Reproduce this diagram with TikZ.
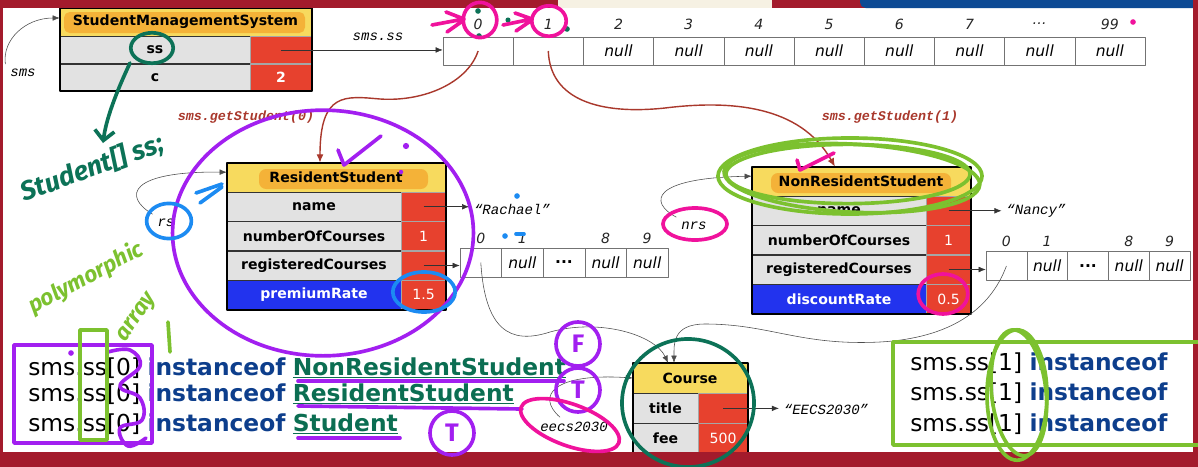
\documentclass[tikz,border=0pt]{standalone}
\usepackage{fontspec}
\setmainfont{DejaVu Sans}
\newfontfamily\codefont{Liberation Mono}
\newfontfamily\penfont{Fira Sans}
\usetikzlibrary{arrows.meta}

% slide and object colours
\definecolor{slidered}{HTML}{A31B2C}
\definecolor{slideblue}{HTML}{0D4A94}
\definecolor{slidecream}{HTML}{F6F1E3}
\definecolor{hdryellow}{HTML}{F7DA5E}
\definecolor{hilite}{HTML}{F3A52C}
\definecolor{cellgrey}{HTML}{E2E2E2}
\definecolor{cellred}{HTML}{E7412E}
\definecolor{cellblue}{HTML}{2233EE}
\definecolor{linkred}{HTML}{A9382C}
\definecolor{kwblue}{HTML}{0D3E8C}
\definecolor{clsgreen}{HTML}{0B6E52}
% pen colours
\definecolor{penpurple}{HTML}{A21FF0}
\definecolor{penpink}{HTML}{F0129C}
\definecolor{penlime}{HTML}{7CC12F}
\definecolor{pengreen}{HTML}{0C7257}
\definecolor{penblue}{HTML}{1C8BF2}

\tikzset{
  classhdr/.style={draw=black, fill=hdryellow, minimum height=0.72cm, inner sep=0pt},
  hdrtext/.style={font=\fontsize{10}{12}\selectfont\bfseries},
  fieldname/.style={draw=black!80, fill=cellgrey, minimum height=0.72cm, inner sep=0pt,
    font=\fontsize{10}{12}\selectfont\bfseries},
  fieldval/.style={draw=black!35, fill=cellred, minimum height=0.72cm, inner sep=0pt,
    text=white, font=\fontsize{10}{12}\selectfont},
  namecell/.style={fieldname, minimum width=4.35cm, anchor=north west},
  valcell/.style={fieldval, minimum width=1.1cm, anchor=north west},
  extracell/.style={namecell, fill=cellblue, text=white},
  objframe/.style={draw=black, line width=1.4pt},
  arrcell/.style={draw=black!55, fill=white, inner sep=0pt, font=\fontsize{11}{13}\selectfont\itshape},
  idx/.style={font=\fontsize{10}{12}\selectfont\itshape, text=black!85},
  codelbl/.style={font=\codefont\fontsize{10}{12}\selectfont\itshape},
  calllbl/.style={font=\codefont\fontsize{9.5}{11}\selectfont\bfseries\itshape, text=linkred},
  ptr/.style={-{Latex[length=5pt,width=4pt]}, black!80, thin},
  ref/.style={-{Latex[length=5pt,width=4pt]}, black!70, thin},
  link/.style={-{Latex[length=6pt,width=5pt]}, linkred, line width=1pt},
  checkline/.style={anchor=base west, inner sep=0pt, font=\fontsize{16.6}{19}\selectfont},
  penline/.style={line width=2.6pt, line cap=round, line join=round},
  pentext/.style={inner sep=1pt, font=\penfont\bfseries\itshape\fontsize{16}{19}\selectfont},
  answer/.style={penline, draw=penpurple, circle, minimum size=1.1cm, inner sep=0pt,
    text=penpurple, font=\penfont\bfseries\fontsize{18}{20}\selectfont},
}

\begin{document}
\begin{tikzpicture}[x=0.025cm, y=-0.025cm, line join=round]
  \useasboundingbox (0,0) rectangle (1198,467);
  \clip (0,0) rectangle (1198,467);
  \fill[white] (0,0) rectangle (1198,467);

  % StudentManagementSystem object
  \node[classhdr, minimum width=6.275cm, minimum height=0.7cm] (smsHead) at (185.5,22) {};
  \fill[hilite, opacity=0.75, rounded corners=4pt] (64,12) rectangle (305,33);
  \node[hdrtext] (smsTitle) at (smsHead) {StudentManagementSystem};
  \node[fieldname, minimum width=4.75cm, minimum height=0.67cm, anchor=north west] (smsSs) at (smsHead.south west) {ss};
  \node[fieldval, minimum width=1.525cm, minimum height=0.67cm, anchor=north west] (smsSsV) at (smsSs.north east) {};
  \node[fieldname, minimum width=4.75cm, minimum height=0.67cm, anchor=north west] (smsC) at (smsSs.south west) {c};
  \node[fieldval, minimum width=1.525cm, minimum height=0.67cm, anchor=north west,
    font=\fontsize{10}{12}\selectfont\bfseries] (smsCV) at (smsC.north east) {2};
  \draw[objframe] (smsHead.north west) rectangle (smsCV.south east);

  \node[codelbl] (smsLbl) at (23,73) {sms};
  \draw[ref] (smsLbl.north west) .. controls (2,40) and (25,18) .. ([yshift=0.1cm]smsHead.west);

  % the ss array
  \foreach \i/\n/\v in {0/0/{},1/1/{},2/2/null,3/3/null,4/4/null,5/5/null,6/6/null,7/7/null,8/{\ldots}/null,9/99/null} {
    \node[arrcell, minimum width=1.755cm, minimum height=0.7cm] (ss\i) at ({478.1+70.2*\i},51) {\v};
    \node[idx] (ssIdx\i) at ({478.1+70.2*\i},24) {\n};
  }
  \node[codelbl] (ssLbl) at (378,37) {sms.ss};
  \draw[ptr] (smsSsV.center) -- (smsSsV.center -| ss0.west);

  % ResidentStudent object
  \node[classhdr, minimum width=5.45cm] (rsHead) at (336,177.4) {};
  \fill[hilite, opacity=0.75, rounded corners=5pt] (259,169) rectangle (428,189);
  \node[hdrtext] (rsTitle) at (rsHead) {ResidentStudent};
  \node[namecell] (rsName) at (rsHead.south west) {name};
  \node[valcell] (rsNameV) at (rsName.north east) {};
  \node[namecell] (rsNum) at (rsName.south west) {numberOfCourses};
  \node[valcell] (rsNumV) at (rsNum.north east) {1};
  \node[namecell] (rsReg) at (rsNum.south west) {registeredCourses};
  \node[valcell] (rsRegV) at (rsReg.north east) {};
  \node[extracell] (rsRate) at (rsReg.south west) {premiumRate};
  \node[valcell] (rsRateV) at (rsRate.north east) {1.5};
  \draw[objframe] (rsHead.north west) rectangle (rsRateV.south east);

  \node[codelbl] (rsLbl) at (166,223) {rs};
  \draw[ref] (rsLbl.north west) .. controls (122,196) and (130,171) .. ([yshift=0.13cm]rsHead.west);

  \node[codelbl] (rachael) at (512,209) {“Rachael”};
  \draw[ptr] (rsNameV.center) -- (rsNameV.center -| rachael.west);

  \foreach \i/\v in {0/{},1/null,2/{\upshape\bfseries ...},3/null,4/null}
    \node[arrcell, minimum width=1.04cm, minimum height=0.725cm] (rsArr\i) at ({480.8+41.6*\i},262.5) {\v};
  \foreach \i/\n in {0/0,1/1,3/8,4/9}
    \node[idx] (rsIdx\i) at ({480.8+41.6*\i},238) {\n};
  \draw[ptr] (rsRegV.center) -- (rsRegV.center -| rsArr0.west);

  % NonResidentStudent object
  \node[classhdr, minimum width=5.45cm] (nrsHead) at (861,181.4) {};
  \fill[hilite, opacity=0.75, rounded corners=5pt] (771,173) rectangle (951,193);
  \node[hdrtext] (nrsTitle) at (nrsHead) {NonResidentStudent};
  \node[namecell] (nrsName) at (nrsHead.south west) {name};
  \node[valcell] (nrsNameV) at (nrsName.north east) {};
  \node[namecell] (nrsNum) at (nrsName.south west) {numberOfCourses};
  \node[valcell] (nrsNumV) at (nrsNum.north east) {1};
  \node[namecell] (nrsReg) at (nrsNum.south west) {registeredCourses};
  \node[valcell] (nrsRegV) at (nrsReg.north east) {};
  \node[extracell] (nrsRate) at (nrsReg.south west) {discountRate};
  \node[valcell] (nrsRateV) at (nrsRate.north east) {0.5};
  \draw[objframe] (nrsHead.north west) rectangle (nrsRateV.south east);

  \node[codelbl] (nrsLbl) at (694,226) {nrs};
  \draw[ref] (nrsLbl.north west) .. controls (648,202) and (652,178) .. ([yshift=0.13cm]nrsHead.west);

  \node[codelbl] (nancy) at (1036,211) {“Nancy”};
  \draw[ptr] (nrsNameV.center) -- (nrsNameV.center -| nancy.west);

  \foreach \i/\v in {0/{},1/null,2/{\upshape\bfseries ...},3/null,4/null}
    \node[arrcell, minimum width=1.02cm, minimum height=0.72cm] (nrsArr\i) at ({1006.4+40.8*\i},266) {\v};
  \foreach \i/\n in {0/0,1/1,3/8,4/9}
    \node[idx] (nrsIdx\i) at ({1006.4+40.8*\i},241) {\n};
  \draw[ptr] (nrsRegV.center) -- (nrsRegV.center -| nrsArr0.west);

  % getStudent links
  \draw[link] (ss0.center) .. controls (468,82) and (425,102) .. (380,99)
    .. controls (345,96) and (320,92) .. ([xshift=-0.4cm]rsHead.north);
  \node[calllbl] (getLbl0) at (246,117) {sms.getStudent(0)};
  \draw[link] (ss1.center) .. controls (550,100) and (600,115) .. (665,108)
    .. controls (730,100) and (800,105) .. ([xshift=-0.65cm]nrsHead.north);
  \node[calllbl] (getLbl1) at (890,117) {sms.getStudent(1)};

  % Course object
  \node[classhdr, minimum width=2.85cm, minimum height=0.75cm] (courseHead) at (690,378) {};
  \node[hdrtext] (courseTitle) at (courseHead) {Course};
  \node[fieldname, minimum width=1.625cm, minimum height=0.74cm, anchor=north west] (courseT) at (courseHead.south west) {title};
  \node[fieldval, minimum width=1.225cm, minimum height=0.74cm, anchor=north west] (courseTV) at (courseT.north east) {};
  \node[fieldname, minimum width=1.625cm, minimum height=0.74cm, anchor=north west] (courseF) at (courseT.south west) {fee};
  \node[fieldval, minimum width=1.225cm, minimum height=0.74cm, anchor=north west] (courseFV) at (courseF.north east) {500};
  \draw[objframe] (courseHead.north west) rectangle (courseFV.south east);

  \node[codelbl] (eecsStr) at (826,409) {“EECS2030”};
  \draw[ptr] (courseTV.center) -- (courseTV.center -| eecsStr.west);
  \node[codelbl] (eecsLbl) at (574,427) {eecs2030};
  \draw[ref] ([xshift=-0.35cm]eecsLbl.north) .. controls (535,395) and (555,373) .. (courseHead.west);

  \draw[ref] (rsArr0.center) .. controls (485,330) and (510,345) .. (550,332)
    .. controls (600,318) and (655,335) .. ([xshift=-0.55cm]courseHead.north);
  \draw[ref] (nrsArr0.center) .. controls (990,310) and (950,338) .. (880,342)
    .. controls (800,346) and (770,324) .. (705,324)
    .. controls (672,324) and (674,345) .. ([xshift=-0.4cm]courseHead.north);

  % instanceof checks
  \node[checkline] (chk0a) at (28,375) {sms.ss[0] \textcolor{kwblue}{\bfseries instanceof} \textcolor{clsgreen}{\bfseries\underline{NonResidentStudent}}};
  \node[checkline] (chk0b) at (28,401) {sms.ss[0] \textcolor{kwblue}{\bfseries instanceof} \textcolor{clsgreen}{\bfseries\underline{ResidentStudent}}};
  \node[checkline] (chk0c) at (28,431) {sms.ss[0] \textcolor{kwblue}{\bfseries instanceof} \textcolor{clsgreen}{\bfseries\underline{Student}}};
  \node[checkline] (chk1a) at (910,370) {sms.ss[1] \textcolor{kwblue}{\bfseries instanceof}};
  \node[checkline] (chk1b) at (910,400) {sms.ss[1] \textcolor{kwblue}{\bfseries instanceof}};
  \node[checkline] (chk1c) at (910,431) {sms.ss[1] \textcolor{kwblue}{\bfseries instanceof}};

  % slide frame
  \fill[slidered] (0,0) rectangle (1198,8);
  \fill[slidecream] (558,0) rectangle (772,8);
  \fill[slideblue, rounded corners=4pt] (860,-6) rectangle (1210,8);
  \fill[slidered] (0,0) rectangle (3,467);
  \fill[slidered] (1193,0) rectangle (1198,467);
  \fill[slidered] (0,452) rectangle (1198,467);

  % pen marks
  \draw[penline, penpurple] (323,233) ellipse [x radius=3.76cm, y radius=3.07cm];
  \draw[penline, penpurple] (338,150) -- (344,165) -- (381,136);
  \fill[penpurple] (406,146) circle (2.2pt) (401,172) circle (1.6pt) (71,353) circle (2pt);
  \draw[penline, penpurple] (14,345) rectangle (152,443);
  \draw[penline, penpurple] plot[smooth, tension=0.7] coordinates {(108,352) (130,350) (140,366) (120,386) (140,398) (142,420) (120,428) (128,446) (146,438)};
  \draw[penline, penpurple] (298,381) -- (564,381);
  \draw[penline, penpurple] (298,406) -- (522,409);
  \draw[penline, penpurple] (298,438) -- (400,438);
  \node[answer] (ansF) at (578,344) {F};
  \node[answer] (ansT1) at (578,390) {T};
  \node[answer] (ansT2) at (452,433) {T};

  \draw[penline, penblue] (169,221) ellipse [x radius=0.56cm, y radius=0.44cm];
  \draw[penline, penblue] (196,193) -- (222,184) (200,203) -- (222,187);
  \draw[penline, penblue] (424,292) ellipse [x radius=0.78cm, y radius=0.5cm];
  \fill[penblue] (517,196) circle (2pt) (505,236) circle (2pt);
  \draw[penline, penblue] (516,234) -- (524,234);

  \draw[penline, pengreen] (152,48) ellipse [x radius=0.53cm, y radius=0.38cm];
  \draw[penline, pengreen, -{Straight Barb[length=7pt]}] (130,63) .. controls (115,95) and (106,120) .. (103,143);
  \node[pentext, pengreen, rotate=20, font=\penfont\bfseries\itshape\fontsize{19}{22}\selectfont] (ssNote) at (92,168) {Student[] ss;};
  \draw[penline, pengreen] (688,403) ellipse [x radius=1.65cm, y radius=1.6cm];
  \fill[pengreen] (478,11) circle (2pt) (479,36) circle (2pt) (508,20) circle (1.8pt) (567,29) circle (2pt);

  \node[pentext, penlime, rotate=28] (polyNote) at (86,278) {polymorphic};
  \node[pentext, penlime, rotate=55] (arrNote) at (138,318) {array};
  \draw[penline, penlime] (168,322) -- (170,352);
  \draw[penline, penlime] (80,330) rectangle (107,440);
  \draw[penline, penlime] (893,342) rectangle (1210,445);
  \draw[penline, penlime] (1017,395) ellipse [x radius=0.75cm, y radius=1.63cm];
  \draw[penline, penlime, rotate around={6:(1017,395)}] (1019,393) ellipse [x radius=0.68cm, y radius=1.58cm];
  \draw[penline, penlime] (850,176) ellipse [x radius=3.3cm, y radius=0.95cm];
  \draw[penline, penlime, rotate around={-3:(850,176)}] (852,178) ellipse [x radius=3.2cm, y radius=0.85cm];
  \draw[penline, penlime] (848,174) ellipse [x radius=3.05cm, y radius=0.74cm];

  \draw[penline, penpink] (570,425) ellipse [x radius=1.3cm, y radius=0.52cm, rotate=-20];
  \draw[penline, penpink] (695,224) ellipse [x radius=0.8cm, y radius=0.4cm];
  \draw[penline, penpink] (943,294) ellipse [x radius=0.62cm, y radius=0.5cm];
  \draw[penline, penpink] (797,160) -- (800,170) -- (834,153);
  \draw[penline, penpink] (480,20) ellipse [x radius=0.42cm, y radius=0.44cm];
  \draw[penline, penpink] (549,21) ellipse [x radius=0.43cm, y radius=0.38cm];
  \draw[penline, penpink] (432,25) -- (464,19) (446,12) -- (464,19) (447,32) -- (464,20);
  \draw[penline, penpink] (503,25) -- (532,19) (515,13) -- (532,19) (516,31) -- (532,20);
  \fill[penpink] (1133,22) circle (2pt);
\end{tikzpicture}
\end{document}
